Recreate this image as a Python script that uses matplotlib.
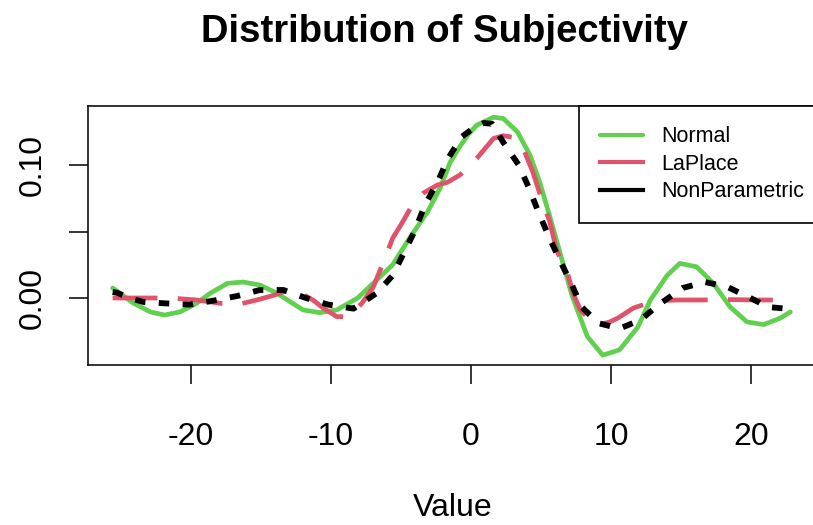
import matplotlib
matplotlib.use('Agg')
import matplotlib.pyplot as plt

plt.rcParams['font.family'] = ['Liberation Sans', 'DejaVu Sans']

# values
normalX = [-25.6, -24.1, -22.9, -21.9, -20.8, -19.6, -18.6, -17.4, -16.3, -15.1,
           -13.9, -12.9, -12.0, -10.8, -9.6, -8.1, -7.2, -5.6, -4.4, -3.1,
           -2.2, -1.5, -0.8, -0.2, 0.4, 1.6, 2.3, 3.3, 4.2, 4.9,
           5.6, 6.4, 7.2, 8.3, 9.4, 10.6, 11.9, 12.8, 14.0, 14.9,
           16.1, 17.3, 18.5, 19.7, 20.9, 22.1, 22.8]
normalY = [0.0075, -0.004, -0.0105, -0.0128, -0.0105, -0.004, 0.0038, 0.011, 0.012, 0.0098,
           0.0038, -0.003, -0.009, -0.011, -0.009, 0.0, 0.009, 0.025, 0.045, 0.065,
           0.083, 0.102, 0.114, 0.123, 0.130, 0.136, 0.135, 0.125, 0.1075, 0.087,
           0.062, 0.032, 0.002, -0.029, -0.043, -0.039, -0.022, -0.0015, 0.017, 0.026,
           0.0235, 0.011, -0.0068, -0.018, -0.020, -0.015, -0.0105]

laplaceX = [-25.6, -24.0, -22.5, -21.1, -19.6, -17.9, -16.7, -15.3, -14.1, -13.2,
            -12.4, -11.3, -10.5, -9.6, -8.8, -7.8, -7.0, -6.3, -5.6, -4.9,
            -4.2, -3.4, -2.4, -1.7, -0.8, 0.4, 1.6, 2.3, 2.9, 3.7,
            4.4, 5.1, 5.6, 6.1, 6.9, 7.3, 7.8, 8.5, 9.2, 9.9,
            10.5, 11.6, 12.6, 13.5, 14.7, 16.5, 18.5, 20.5, 22.8]
laplaceY = [0.0, 0.0, 0.0, -0.0003, -0.0015, -0.004, -0.005, -0.0015, 0.002, 0.0055,
            0.005, -0.0015, -0.008, -0.014, -0.014, -0.004, 0.008, 0.026, 0.045, 0.057,
            0.070, 0.079, 0.085, 0.087, 0.0925, 0.105, 0.120, 0.122, 0.121, 0.113,
            0.095, 0.072, 0.058, 0.036, 0.018, 0.003, -0.009, -0.0165, -0.020, -0.018,
            -0.015, -0.0075, -0.004, -0.002, -0.0015, -0.0015, -0.0012, -0.0015, -0.0015]

nonparX = [-25.6, -25.3, -24.4, -23.4, -21.9, -20.1, -18.4, -16.7, -15.1, -13.4,
           -11.8, -10.2, -8.4, -6.7, -5.6, -4.8, -4.0, -3.3, -2.4, -1.7,
           -0.7, 0.2, 0.9, 1.5, 2.3, 3.4, 4.1, 4.8, 5.6, 6.4,
           7.2, 7.9, 9.1, 10.6, 12.1, 13.4, 15.1, 16.7, 18.3, 19.8,
           21.2, 22.8]
nonparY = [0.0045, 0.004, 0.0, -0.003, -0.004, -0.005, -0.002, 0.0015, 0.006, 0.006,
           0.0, -0.005, -0.008, 0.004, 0.017, 0.034, 0.051, 0.070, 0.087, 0.104,
           0.121, 0.128, 0.1316, 0.131, 0.117, 0.100, 0.0835, 0.0647, 0.045, 0.027,
           0.0098, -0.0068, -0.019, -0.023, -0.0165, -0.005, 0.0075, 0.012, 0.0083, 0.0008,
           -0.0068, -0.0083]

seriesNames = ['Normal', 'LaPlace', 'NonParametric']
xTicks = [-20, -10, 0, 10, 20]
yTicks = [0.0, 0.05, 0.10]
yTickLabels = ['0.00', '', '0.10']

green = '#61D04F'
red = '#DF536B'

fig = plt.figure(figsize=(8.13, 5.25), dpi=100)
ax = fig.add_axes([88 / 813, 1 - 365 / 525, (817 - 88) / 813, (365 - 106) / 525])

ax.plot(normalX, normalY, color=green, lw=3.4, label=seriesNames[0],
        solid_capstyle='round', solid_joinstyle='round')
ax.plot(laplaceX, laplaceY, color=red, lw=3.4, label=seriesNames[1],
        dashes=(9.5, 4.3), dash_joinstyle='round')
ax.plot(nonparX, nonparY, color='black', lw=4.2, label=seriesNames[2],
        dashes=(1.8, 2.3), dash_joinstyle='round')

ax.set_xlim(-27.36, 24.7)
ax.set_ylim(-0.0504, 0.1444)

ax.set_xticks(xTicks)
ax.set_xticklabels([str(t) for t in xTicks])
ax.set_yticks(yTicks)
ax.set_yticklabels(yTickLabels, rotation=90, va='center')

ax.tick_params(axis='both', direction='out', length=13.7, width=1.1,
               labelsize=23, colors='black')
ax.tick_params(axis='x', pad=27)
ax.tick_params(axis='y', pad=15)
for s in ax.spines.values():
    s.set_linewidth(1.2)
    s.set_color('#111111')

ax.set_xlabel('Value', fontsize=23, labelpad=30)

fig.text(444 / 813, 1 - 42 / 525, 'Distribution of Subjectivity',
         ha='center', va='baseline', fontsize=27.5, fontweight='bold')

# legend box runs off the right edge like in the reference
leg = ax.legend(loc='upper right', bbox_to_anchor=(1.0 + 8 / 729, 1.0), borderaxespad=0,
                fontsize=15.5, frameon=True, fancybox=False, edgecolor='black',
                framealpha=1, handlelength=2.0, handletextpad=0.88,
                borderpad=0.95, labelspacing=0.3)
leg.get_frame().set_linewidth(1.2)
for h in leg.get_lines():
    h.set_linestyle('-')
    h.set_linewidth(3.0)

fig.savefig('out.png', dpi=100)
